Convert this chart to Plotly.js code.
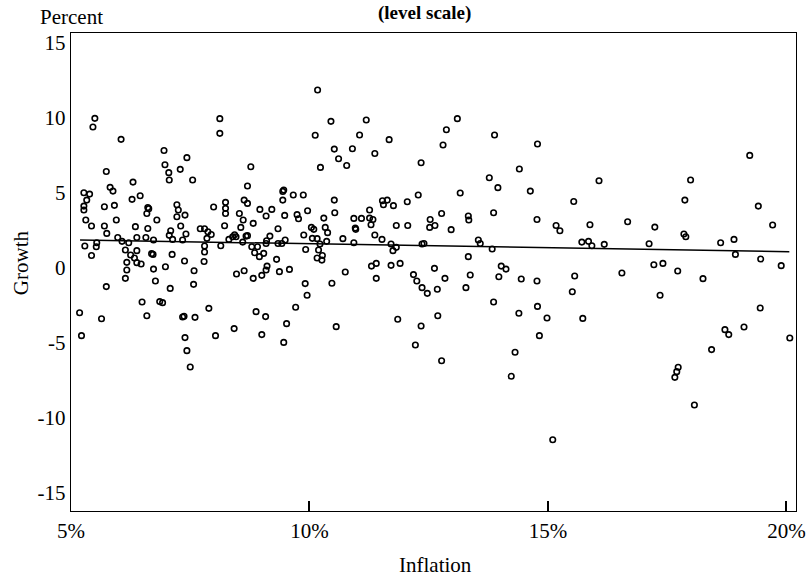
<!DOCTYPE html>
<html>
<head>
<meta charset="utf-8">
<script src="https://cdn.plot.ly/plotly-3.0.1.min.js"></script>
<style>html,body{margin:0;padding:0;background:#fff;}#chart{width:810px;height:579px;}</style>
</head>
<body>
<div id="chart"></div>
<script>
// Inflation (%) of each observation
const inflation = [
5.50,5.46,6.05,5.74,5.27,5.39,5.33,5.27,5.27,5.31,5.43,5.82,5.88,5.70,5.91,5.95,5.70,5.75,5.98,5.29,
5.54,5.53,5.43,5.74,6.30,6.28,6.45,6.61,6.63,6.59,6.80,6.35,6.61,6.38,6.57,6.73,6.07,6.21,6.14,6.25,
6.38,6.33,6.17,6.38,6.47,6.17,6.14,6.69,6.72,6.73,6.77,6.95,6.97,7.05,7.06,7.29,7.43,7.55,7.22,7.25,
7.22,7.39,7.09,7.06,7.13,7.30,7.41,7.34,7.12,6.98,7.38,7.08,7.58,7.57,7.71,7.80,7.85,7.87,7.94,7.80,
7.80,7.79,7.99,8.12,8.12,8.24,8.24,8.24,8.22,8.14,8.31,8.39,8.43,8.46,8.60,8.67,8.70,8.53,8.61,8.56,
8.63,8.70,8.70,8.77,8.82,8.79,8.91,8.85,8.95,9.04,9.09,9.10,9.17,8.96,9.09,9.21,8.47,8.63,8.82,9.00,
9.09,9.11,9.31,9.37,9.58,9.34,9.34,9.42,9.49,9.44,9.46,9.44,9.48,9.66,9.87,9.74,9.77,9.96,9.88,9.92,
10.04,10.09,10.06,10.16,10.19,10.16,9.91,10.12,10.23,
5.18,5.22,5.64,6.49,6.59,6.86,6.92,7.34,7.37,7.60,7.39,7.43,7.50,7.89,8.03,8.42,8.88,9.08,9.00,9.71,
9.52,9.46,9.95,
10.17,10.45,11.19,11.05,10.52,10.61,10.90,10.78,11.37,11.67,12.34,12.80,12.87,13.10,13.88,14.78,14.40,13.77,13.95,14.63,
13.16,10.52,10.53,10.30,10.33,10.38,10.36,10.22,10.27,10.26,10.70,10.93,10.93,10.96,10.97,11.09,11.26,11.26,11.33,11.29,
11.37,11.52,11.53,11.63,11.55,11.76,11.82,11.71,11.75,11.82,12.05,12.28,12.06,12.36,12.40,12.53,12.52,12.63,12.77,12.97,
13.33,13.34,13.54,13.58,13.86,13.83,13.33,14.77,15.17,15.25,10.75,10.47,11.30,11.40,11.40,11.71,11.90,12.18,12.25,12.36,
12.62,12.84,12.68,13.28,13.37,14.02,14.12,13.97,14.44,14.77,
12.47,13.86,14.39,14.78,14.98,14.82,10.56,11.85,12.34,12.22,12.69,12.77,14.31,14.23,15.10,
19.23,19.41,19.71,17.99,17.87,17.85,17.89,16.07,15.54,15.88,16.67,17.24,15.71,15.85,15.92,16.18,17.12,18.62,18.90,18.93,
19.46,19.89,15.56,16.55,17.22,17.41,17.72,18.25,
15.51,15.73,17.35,19.45,19.11,18.71,18.79,18.43,20.07,17.73,17.70,17.66,18.07
];
// Growth (%) of each observation
const growth = [
9.98,9.40,8.58,6.44,5.02,4.93,4.53,4.13,3.87,3.20,2.80,5.38,5.13,4.09,4.18,3.20,2.80,2.31,2.04,1.47,
1.69,1.42,0.84,-1.24,5.73,4.58,4.82,4.04,3.96,3.64,3.20,2.76,2.64,2.04,2.04,1.87,1.78,1.69,1.20,0.87,
1.16,0.67,0.38,0.36,0.27,-0.13,-0.69,0.96,0.91,-0.07,-0.87,7.84,6.89,6.36,5.87,6.58,7.36,5.87,4.22,3.87,
3.42,3.53,2.49,2.18,1.91,2.80,2.27,1.87,0.91,0.09,0.47,-1.36,-0.18,-1.09,2.62,2.62,1.98,2.42,2.24,1.47,
1.07,0.44,4.07,9.96,8.98,4.38,3.98,3.64,2.82,1.49,1.91,2.09,2.22,2.09,1.73,2.13,2.16,3.64,3.20,2.71,
4.53,4.31,5.47,6.75,2.98,1.42,1.42,1.02,0.76,0.98,1.64,1.82,2.13,3.91,3.47,3.91,-0.40,-0.18,-0.69,-0.49,
-0.13,0.13,0.58,-0.24,-0.09,2.62,1.64,1.64,1.87,4.53,5.20,5.11,3.51,4.87,4.87,3.56,3.29,3.82,2.20,1.24,
2.71,2.58,1.98,1.96,1.20,0.67,-1.04,8.85,6.71,
-2.98,-4.51,-3.38,-2.27,-3.18,-2.24,-2.31,-3.27,-3.22,-3.29,-4.64,-5.51,-6.60,-2.69,-4.51,-4.04,-2.91,-3.24,-4.44,-2.62,
-3.71,-4.96,-1.82,
11.87,9.78,9.87,8.87,7.93,7.29,7.95,6.84,7.64,8.56,7.02,8.20,9.22,9.96,8.87,8.27,6.60,6.02,5.36,5.13,
5.00,4.53,3.69,3.33,2.71,2.36,1.78,1.60,0.84,0.53,1.96,1.69,3.31,2.67,2.58,3.31,3.87,3.33,3.24,2.89,
2.20,1.91,4.49,4.53,4.22,4.16,2.84,1.60,1.16,1.38,4.42,4.87,2.84,1.60,1.64,3.24,2.71,2.84,3.64,2.56,
3.47,3.20,1.87,1.64,3.69,1.27,0.76,3.24,2.84,2.49,-0.27,-1.02,0.13,0.31,-0.69,0.18,0.31,-0.44,-0.87,-1.31,
-0.02,-0.69,-1.42,-1.31,-0.47,0.13,-0.07,-0.58,-0.73,-0.87,
-1.69,-2.27,-3.02,-2.56,-3.33,-4.51,-3.91,-3.42,-3.87,-5.13,-3.18,-6.18,-5.62,-7.22,-11.45,
7.51,4.13,2.87,5.87,4.53,2.27,2.09,5.82,4.44,2.89,3.09,2.73,1.73,1.78,1.49,1.58,1.62,1.69,1.91,0.91,
0.60,0.16,-0.53,-0.33,0.22,0.31,-0.20,-0.71,
-1.58,-3.36,-1.82,-2.67,-3.93,-4.11,-4.44,-5.44,-4.67,-6.62,-6.91,-7.29,-9.13
];
// Fitted line, read at its two ends
const fitInflation = [5.19, 20.06];
const fitGrowth = [1.87, 1.09];
// Tick values and labels
const xTickVals = [5, 10, 15, 20];
const xTickText = ['5%', '10%', '15%', '20%'];
const yTickVals = [-15, -10, -5, 0, 5, 10, 15];
const yTickText = ['-15', '-10', '-5', '0', '5', '10', '15'];

const serif = '"Times New Roman", "Liberation Serif", "DejaVu Serif", serif';

const traces = [
  {
    x: inflation, y: growth, type: 'scatter', mode: 'markers',
    marker: {symbol: 'circle-open', size: 5.5, color: '#000', line: {width: 1.6, color: '#000'}},
    hoverinfo: 'x+y', showlegend: false
  },
  {
    x: fitInflation, y: fitGrowth, type: 'scatter', mode: 'lines',
    line: {color: '#000', width: 1.5}, hoverinfo: 'skip', showlegend: false
  }
];

const layout = {
  width: 810, height: 579,
  margin: {l: 71, r: 14, t: 33, b: 68},
  paper_bgcolor: '#fff', plot_bgcolor: '#fff',
  font: {family: serif, size: 21, color: '#000'},
  showlegend: false,
  xaxis: {
    range: [5, 20.2], tickvals: xTickVals, ticktext: xTickText,
    ticks: 'inside', ticklen: 10, tickwidth: 2, tickcolor: '#000',
    showline: true, mirror: true, linecolor: '#000', linewidth: 1.3,
    showgrid: false, zeroline: false, tickfont: {family: serif, size: 21}
  },
  yaxis: {
    range: [-16.2, 15.67], tickvals: yTickVals, ticktext: yTickText,
    ticks: '', showline: true, mirror: true, linecolor: '#000', linewidth: 1.3,
    showgrid: false, zeroline: false, tickfont: {family: serif, size: 21}
  },
  annotations: [
    {text: '<b>(level scale)</b>', xref: 'paper', yref: 'paper', x: 0.487, y: 1.069,
     xanchor: 'center', yanchor: 'top', showarrow: false, font: {family: serif, size: 19}},
    {text: 'Percent', xref: 'paper', yref: 'paper', x: -0.045, y: 1.034,
     xanchor: 'left', yanchor: 'middle', showarrow: false, font: {family: serif, size: 21}},
    {text: 'Growth', xref: 'paper', yref: 'paper', x: -0.068, y: 0.52,
     xanchor: 'center', yanchor: 'middle', textangle: -90, showarrow: false, font: {family: serif, size: 21}},
    {text: 'Inflation', xref: 'paper', yref: 'paper', x: 0.503, y: -0.114,
     xanchor: 'center', yanchor: 'middle', showarrow: false, font: {family: serif, size: 21}}
  ]
};

Plotly.newPlot('chart', traces, layout, {displayModeBar: false, staticPlot: true});
</script>
</body>
</html>
